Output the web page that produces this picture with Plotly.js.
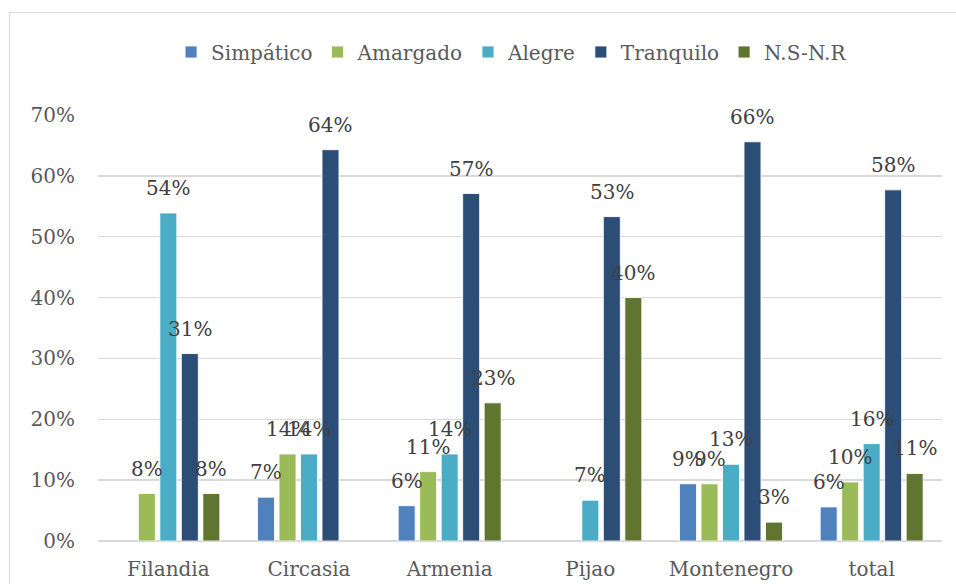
<!DOCTYPE html>
<html>
<head>
<meta charset="utf-8">
<script src="https://cdn.plot.ly/plotly-3.0.1.min.js"></script>
<style>
  html, body { margin: 0; padding: 0; width: 956px; height: 584px; overflow: hidden; background: #fff; }
  #frame { position: absolute; left: 9px; top: 12px; width: 1200px; height: 1000px; border: 1.5px solid #D9D9D9; pointer-events: none; }
  #chart { position: absolute; left: 0; top: 0; width: 956px; height: 584px; }
</style>
</head>
<body>
<div id="frame"></div>
<div id="chart"></div>
<script>
const categories = ['Filandia', 'Circasia', 'Armenia', 'Pijao', 'Montenegro', 'total'];
const seriesNames = ['Simpático', 'Amargado', 'Alegre', 'Tranquilo', 'N.S-N.R'];
const simpatico = [null, 0.072, 0.058, null, 0.094, 0.056];
const amargado  = [0.078, 0.143, 0.114, null, 0.094, 0.097];
const alegre    = [0.539, 0.143, 0.143, 0.067, 0.126, 0.160];
const tranquilo = [0.308, 0.643, 0.571, 0.533, 0.656, 0.577];
const nsnr      = [0.078, null, 0.227, 0.400, 0.031, 0.111];
const yTicks = [0, 0.1, 0.2, 0.3, 0.4, 0.5, 0.6, 0.7];
const yTickLabels = ['0%', '10%', '20%', '30%', '40%', '50%', '60%', '70%'];

const seriesValues = [simpatico, amargado, alegre, tranquilo, nsnr];
const colors = ['#4F81BD', '#9BBB59', '#4BACC6', '#2C4D75', '#5F7530'];
const FONT = 'DejaVu Serif, serif';
const bargap = 0.236;
const slot = (1 - bargap) / seriesValues.length;

const traces = seriesValues.map((vals, j) => ({
  type: 'bar',
  name: seriesNames[j],
  x: categories,
  y: vals,
  marker: { color: colors[j], line: { color: 'rgba(255,255,255,0.85)', width: 1 } },
  hoverinfo: 'skip'
}));

const annotations = [];
seriesValues.forEach((vals, j) => {
  vals.forEach((v, i) => {
    if (v === null) return;
    annotations.push({
      xref: 'x', yref: 'y',
      x: i + (j - (seriesValues.length - 1) / 2) * slot,
      y: v,
      text: Math.round(v * 100) + '%',
      showarrow: false,
      xanchor: 'center', yanchor: 'bottom',
      yshift: 11,
      font: { family: FONT, size: 20, color: '#404040' }
    });
  });
});

const layout = {
  width: 956, height: 584,
  margin: { l: 98, r: 14, t: 115, b: 43 },
  paper_bgcolor: 'rgba(0,0,0,0)',
  plot_bgcolor: 'rgba(0,0,0,0)',
  barmode: 'group',
  bargap: bargap,
  bargroupgap: 0.21,
  showlegend: true,
  legend: {
    orientation: 'h', x: 0.49, xanchor: 'center', y: 0.911, yref: 'container', yanchor: 'middle',
    font: { family: FONT, size: 20, color: '#595959' },
    itemwidth: 30, traceorder: 'normal'
  },
  xaxis: {
    type: 'category',
    showgrid: false, showline: false, zeroline: false,
    ticks: '', ticklabelstandoff: 14,
    tickfont: { family: FONT, size: 20, color: '#595959' }
  },
  yaxis: {
    range: [0, 0.7],
    tickvals: yTicks, ticktext: yTickLabels,
    showgrid: true, gridcolor: '#D9D9D9', gridwidth: 1.5,
    zeroline: true, zerolinecolor: '#D9D9D9', zerolinewidth: 1.5,
    showline: false, ticks: '', ticklabelstandoff: 22,
    tickfont: { family: FONT, size: 20, color: '#595959' }
  },
  annotations: annotations
};

Plotly.newPlot('chart', traces, layout, { displayModeBar: false, staticPlot: true });
</script>
</body>
</html>
